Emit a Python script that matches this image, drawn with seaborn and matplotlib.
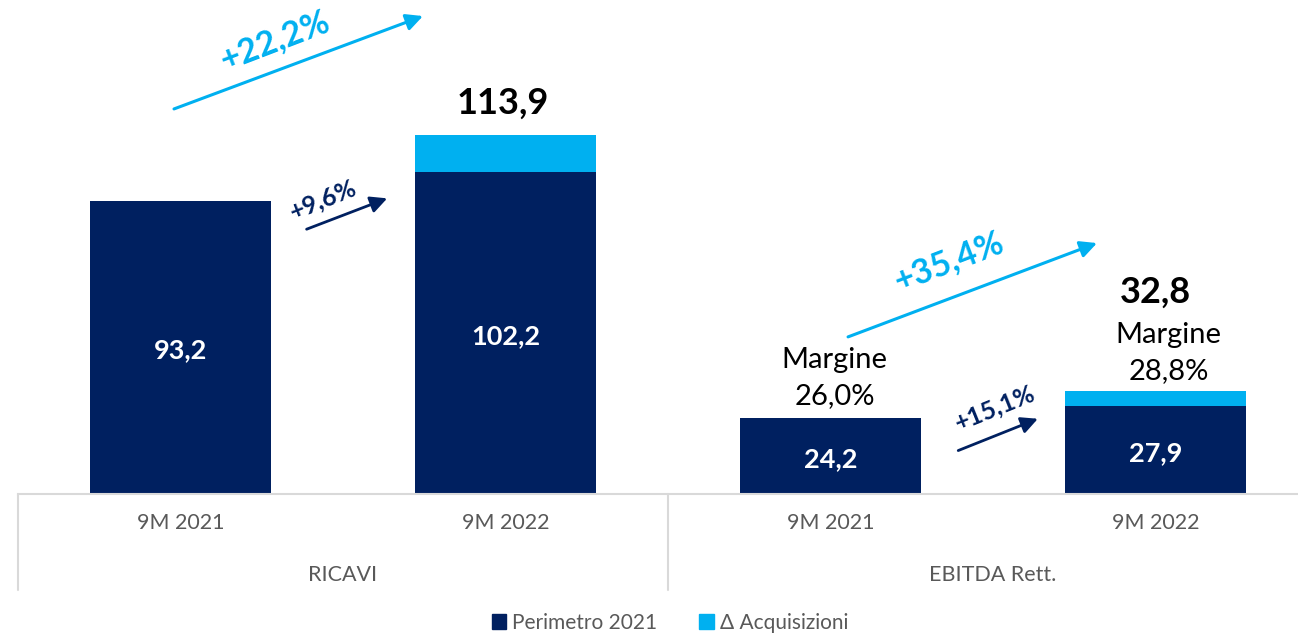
import matplotlib.pyplot as plt
import matplotlib.patches as mpatches
import seaborn as sns
import pandas as pd

# data
groups = ['RICAVI', 'RICAVI', 'EBITDA Rett.', 'EBITDA Rett.']
periods = ['9M 2021', '9M 2022', '9M 2021', '9M 2022']
perimetro = [93.2, 102.2, 24.2, 27.9]
totale = [93.2, 113.9, 24.2, 32.8]
margini = [None, None, '26,0%', '28,8%']
growth_tot = ['+22,2%', '+35,4%']
growth_per = ['+9,6%', '+15,1%']

NAVY = '#002060'
LIGHT = '#00B0F0'
GREY_TXT = '#595959'
GREY_LINE = '#D9D9D9'

sns.set_style('white')
plt.rcParams['font.family'] = ['Lato', 'DejaVu Sans']


def fmt(v):
    return f'{v:.1f}'.replace('.', ',')


df = pd.DataFrame({
    'key': [g + '|' + p for g, p in zip(groups, periods)],
    'perimetro': perimetro,
    'totale': totale,
})

fig = plt.figure(figsize=(12.98, 6.36), dpi=100)
ax = fig.add_axes([18 / 1298, 142 / 636, 1300 / 1298, 494 / 636])

# stacked bars: total (light) behind, base (navy) in front
sns.barplot(data=df, x='key', y='totale', color=LIGHT, width=0.554,
            errorbar=None, linewidth=0, saturation=1, ax=ax)
sns.barplot(data=df, x='key', y='perimetro', color=NAVY, width=0.554,
            errorbar=None, linewidth=0, saturation=1, ax=ax)

ax.set_xlim(-0.5, 3.5)
ax.set_ylim(0, 156.9)
ax.set_xlabel('')
ax.set_ylabel('')
ax.set_yticks([])
for s in ['top', 'left', 'right']:
    ax.spines[s].set_visible(False)
ax.spines['bottom'].set_color(GREY_LINE)
ax.spines['bottom'].set_linewidth(1.5)
ax.set_xticks(range(len(periods)))
ax.set_xticklabels(periods, fontsize=15.5, color=GREY_TXT)
ax.tick_params(axis='x', length=0, pad=14)

# group labels and separators
xt = ax.get_xaxis_transform()
for i, name in enumerate(['RICAVI', 'EBITDA Rett.']):
    ax.text(2 * i + 0.5, -0.164, name, transform=xt, ha='center', va='center',
            fontsize=15.5, color=GREY_TXT)
for xs in [-0.5, 1.5, 3.5]:
    ax.plot([xs, xs], [0, -0.194], transform=xt, color=GREY_LINE,
            lw=1.5, clip_on=False)

# values inside bars
for i, v in enumerate(perimetro):
    ax.text(i, v / 2 - 1, fmt(v), ha='center', va='center', color='white',
            fontsize=19.5, fontweight='bold')

# totals above stacked bars
ax.text(0.992, 124.2, fmt(totale[1]), ha='center', va='center',
        fontsize=26, fontweight='bold', color='black')
ax.text(3.0, 64.0, fmt(totale[3]), ha='center', va='center',
        fontsize=26, fontweight='bold', color='black')

# margins
ax.text(2.012, 36.8, 'Margine\n' + margini[2], ha='center', va='center',
        fontsize=21, color='black', linespacing=1.5)
ax.text(3.04, 44.7, 'Margine\n' + margini[3], ha='center', va='center',
        fontsize=21, color='black', linespacing=1.5)

# growth arrows
arrows = [
    ((-0.02, 122.3), (0.746, 151.8), LIGHT, 2.2, growth_tot[0], (0.291, 144.2), 24.5, 21),
    ((0.388, 84.1), (0.636, 93.9), NAVY, 2.0, growth_per[0], (0.438, 93.4), 18, 22),
    ((2.054, 49.9), (2.82, 79.7), LIGHT, 2.2, growth_tot[1], (2.363, 73.7), 24.5, 21),
    ((2.393, 13.8), (2.638, 23.9), NAVY, 2.0, growth_per[1], (2.506, 27.5), 18, 22),
]
for start, end, col, lw, lab, tpos, fs, rot in arrows:
    ax.annotate('', xy=end, xytext=start,
                arrowprops=dict(arrowstyle='-|>,head_length=1.0,head_width=0.5',
                                color=col, lw=lw, shrinkA=0, shrinkB=0))
    ax.text(tpos[0], tpos[1], lab, ha='center', va='center', color=col,
            fontsize=fs, fontweight='bold', rotation=rot,
            rotation_mode='anchor')

# legend
handles = [mpatches.Patch(color=NAVY, label='Perimetro 2021'),
           mpatches.Patch(color=LIGHT, label='Δ Acquisizioni')]
leg = fig.legend(handles=handles, loc='center', ncol=2, frameon=False,
                 bbox_to_anchor=(670 / 1298, 1 - 623 / 636), fontsize=15,
                 handlelength=0.7, handleheight=0.7, handletextpad=0.3,
                 columnspacing=2.0)
for t in leg.get_texts():
    t.set_color(GREY_TXT)

fig.savefig('out.png', dpi=100)
